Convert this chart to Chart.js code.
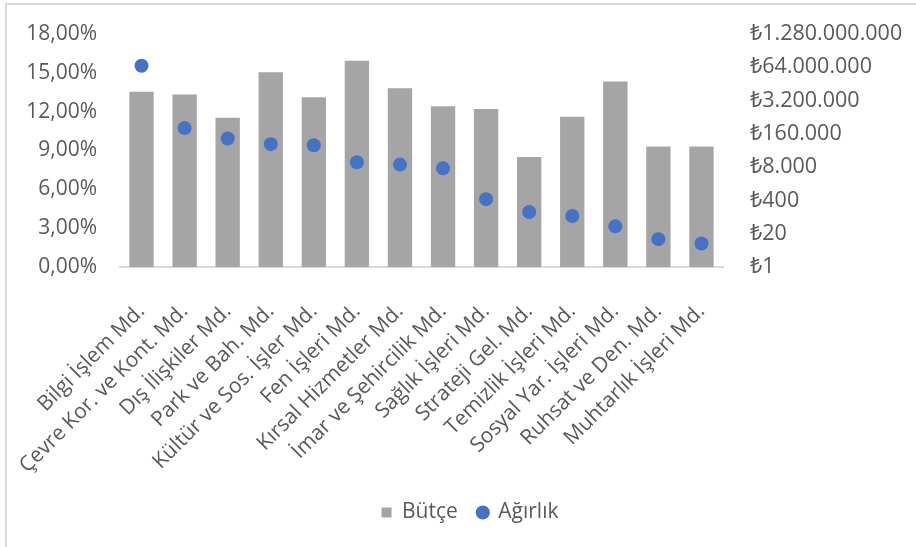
<!DOCTYPE html>
<html>
<head>
<meta charset="utf-8">
<script src="https://cdn.jsdelivr.net/npm/chart.js@4.4.1/dist/chart.umd.min.js"></script>
<style>
  html, body { margin: 0; padding: 0; background: #fff; overflow: hidden; }
  #wrap { position: relative; width: 916px; height: 547px; }
  #frame { position: absolute; left: 5px; top: 3px; width: 1000px; height: 700px;
           border: 2px solid #d9d9d9; box-sizing: border-box; }
  canvas { position: absolute; left: 0; top: 0; }
</style>
</head>
<body>
<div id="wrap">
  <div id="frame"></div>
  <canvas id="myChart" width="916" height="547"></canvas>
</div>
<script>
// data
const categories = ['Bilgi İşlem Md.', 'Çevre Kor. ve Kont. Md.', 'Dış İlişkiler Md.', 'Park ve Bah. Md.',
  'Kültür ve Sos. İşler Md.', 'Fen İşleri Md.', 'Kırsal Hizmetler Md.', 'İmar ve Şehircilik Md.',
  'Sağlık İşleri Md.', 'Strateji Gel. Md.', 'Temizlik İşleri Md.', 'Sosyal Yar. İşleri Md.',
  'Ruhsat ve Den. Md.', 'Muhtarlık İşleri Md.'];
const butce = [7000000, 5500000, 675000, 40800000, 4300000, 114000000, 9700000,
  1900000, 1500000, 20000, 740000, 17700000, 51000, 51000];
const agirlik = [15.55, 10.73, 9.93, 9.49, 9.41, 8.09, 7.91, 7.62, 5.24, 4.25, 3.94, 3.14, 2.15, 1.82];
const leftTicks = [0, 3, 6, 9, 12, 15, 18];
const rightTicks = [1, 20, 400, 8000, 160000, 3200000, 64000000, 1280000000];

const txt = '#595959';
const fam = "'Open Sans', 'Noto Sans', sans-serif";

function lira(v) {
  return '₺' + String(v).replace(/\B(?=(\d{3})+(?!\d))/g, '.');
}

// keep tick padding from pushing the plot area down
function fixPad(s, w) {
  s.width = w;
  s.paddingTop = 12;
  s.paddingBottom = 12;
}

// legend sits a bit right of centre in the original
const legendShift = {
  id: 'legendShift',
  afterLayout(chart) {
    chart.legend.left += 12;
    chart.legend.right += 12;
  }
};

const ctx = document.getElementById('myChart');

new Chart(ctx, {
  data: {
    labels: categories,
    datasets: [
      {
        type: 'bar',
        label: 'Bütçe',
        data: butce,
        yAxisID: 'yR',
        backgroundColor: '#a5a5a5',
        pointStyle: 'rect',
        barPercentage: 0.565,
        categoryPercentage: 1,
        order: 1
      },
      {
        type: 'line',
        label: 'Ağırlık',
        data: agirlik,
        yAxisID: 'yL',
        showLine: false,
        pointStyle: 'circle',
        pointRadius: 7,
        pointBackgroundColor: '#4472c4',
        pointBorderColor: '#4472c4',
        pointBorderWidth: 0,
        backgroundColor: '#4472c4',
        borderColor: '#4472c4',
        order: 0
      }
    ]
  },
  plugins: [legendShift],
  options: {
    responsive: false,
    animation: false,
    layout: { padding: { top: 34, left: 0, right: 0, bottom: 14 } },
    plugins: {
      tooltip: { enabled: false },
      legend: {
        position: 'bottom',
        labels: {
          usePointStyle: true,
          boxWidth: 10,
          boxHeight: 10,
          padding: 20,
          color: txt,
          font: { family: fam, size: 21 },
          sort: (a, b) => a.datasetIndex - b.datasetIndex
        }
      }
    },
    scales: {
      x: {
        grid: { display: false, drawTicks: false },
        border: { display: true, color: '#d9d9d9', width: 2 },
        ticks: {
          color: txt,
          font: { family: fam, size: 21 },
          maxRotation: 45,
          minRotation: 45,
          autoSkip: false,
          padding: 32
        },
        afterFit: s => { s.height = 215; }
      },
      yL: {
        position: 'left',
        min: 0,
        max: 18,
        grid: { display: false, drawTicks: false },
        border: { display: false },
        afterBuildTicks: s => { s.ticks = leftTicks.map(v => ({ value: v })); },
        ticks: {
          color: txt,
          font: { family: fam, size: 21 },
          padding: 23,
          callback: v => v.toFixed(2).replace('.', ',') + '%'
        },
        afterFit: s => fixPad(s, 120)
      },
      yR: {
        type: 'logarithmic',
        position: 'right',
        min: 1,
        max: 1280000000,
        grid: { display: false, drawTicks: false },
        border: { display: false },
        afterBuildTicks: s => { s.ticks = rightTicks.map(v => ({ value: v })); },
        ticks: {
          color: txt,
          font: { family: fam, size: 21.5 },
          padding: 27,
          callback: v => lira(v)
        },
        afterFit: s => fixPad(s, 193)
      }
    }
  }
});
</script>
</body>
</html>
